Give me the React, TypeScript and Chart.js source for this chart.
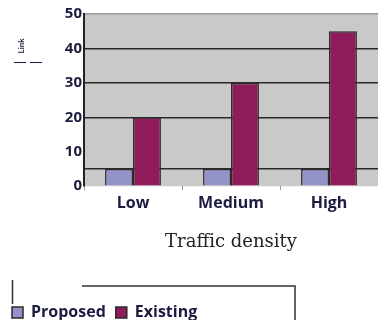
import React, { useEffect, useRef } from 'react';
import { Chart, registerables } from 'chart.js';

Chart.register(...registerables);

const categories = ['Low', 'Medium', 'High'];
const seriesNames = ['Proposed', 'Existing'];
const proposed = [5, 5, 5];
const existing = [20, 30, 45];
const yTicks = [0, 5, 10, 20, 30, 40, 50];
const yTickLabels = ['0', '', '10', '20', '30', '40', '50'];
const xTitle = 'Traffic density';
const yTitle = 'Link';

const TEXT = '#1c1c40';
const LINE = '#2a2a2a';

const bgPlugin = {
  id: 'plotBg',
  beforeDraw(chart: any) {
    const { ctx, chartArea } = chart;
    ctx.save();
    ctx.fillStyle = '#c9c9c9';
    ctx.fillRect(chartArea.left, chartArea.top, chartArea.right - chartArea.left, chartArea.bottom - chartArea.top);
    ctx.restore();
  },
};

const decoPlugin = {
  id: 'deco',
  afterDraw(chart: any) {
    const { ctx } = chart;
    ctx.save();
    ctx.strokeStyle = '#333';
    ctx.lineWidth = 1.5;
    ctx.beginPath();
    ctx.moveTo(12.5, 280);
    ctx.lineTo(12.5, 304);
    ctx.moveTo(82, 286);
    ctx.lineTo(295, 286);
    ctx.lineTo(295, 320);
    ctx.stroke();
    ctx.translate(21, 46);
    ctx.rotate(-Math.PI / 2);
    ctx.fillStyle = TEXT;
    ctx.font = 'bold 8px Lato';
    ctx.textAlign = 'center';
    ctx.textBaseline = 'middle';
    ctx.fillText(yTitle, 0, 0);
    ctx.restore();
    ctx.save();
    ctx.strokeStyle = TEXT;
    ctx.lineWidth = 1;
    ctx.beginPath();
    ctx.moveTo(14, 62.5);
    ctx.lineTo(26, 62.5);
    ctx.moveTo(30, 62.5);
    ctx.lineTo(42, 62.5);
    ctx.stroke();
    ctx.restore();
  },
};

export default function App() {
  const ref = useRef<HTMLCanvasElement | null>(null);
  useEffect(() => {
    if (!ref.current) return;
    const chart = new Chart(ref.current, {
      type: 'bar',
      data: {
        labels: categories,
        datasets: [
          {
            label: seriesNames[0],
            data: proposed,
            backgroundColor: '#9393c9',
            borderColor: LINE,
            borderWidth: 1.5,
          },
          {
            label: seriesNames[1],
            data: existing,
            backgroundColor: '#8f1b5a',
            borderColor: LINE,
            borderWidth: 1.5,
          },
        ],
      },
      options: {
        responsive: false,
        animation: false,
        devicePixelRatio: 1,
        layout: { padding: { top: 14, left: 2, right: -8, bottom: -10.6 } },
        datasets: { bar: { categoryPercentage: 0.57, barPercentage: 1 } },
        plugins: {
          tooltip: { enabled: false },
          legend: {
            position: 'bottom',
            align: 'start',
            labels: {
              boxWidth: 11,
              boxHeight: 11,
              padding: 10,
              color: TEXT,
              font: { family: 'Open Sans', weight: 'bold', size: 16 },
            },
          },
        },
        scales: {
          x: {
            grid: {
              display: true,
              drawOnChartArea: false,
              drawTicks: true,
              tickLength: 4,
              tickColor: '#999',
              offset: true,
            },
            border: { display: false },
            ticks: {
              color: TEXT,
              padding: 3.5,
              font: { family: 'Open Sans', weight: 'bold', size: 16 },
            },
            title: {
              display: true,
              text: xTitle,
              color: '#222',
              font: { family: 'DejaVu Serif', size: 18 },
              padding: { top: 4, bottom: 41.6 },
            },
            afterFit(scale: any) {
              scale.height = 108.4;
            },
          },
          y: {
            min: 0,
            max: 50,
            afterBuildTicks(scale: any) {
              scale.ticks = yTicks.map((v) => ({ value: v }));
            },
            ticks: {
              color: TEXT,
              padding: 2,
              font: { family: 'Open Sans', weight: 'bold', size: 15 },
              callback: (_v: any, i: number) => yTickLabels[i],
            },
            grid: {
              drawTicks: false,
              lineWidth: 1.5,
              color: (ctx: any) => {
                const v = ctx.tick ? ctx.tick.value : null;
                if (v === 0 || v === 10) return 'rgba(0,0,0,0)';
                if (v === 50) return '#9a9a9a';
                return LINE;
              },
            },
            border: { display: true, color: '#222', width: 2 },
            afterFit(scale: any) {
              scale.width = 82;
            },
          },
        },
      },
      plugins: [bgPlugin, decoPlugin],
    });
    return () => chart.destroy();
  }, []);
  return (
    <div style={{ position: 'fixed', left: 0, top: 0, width: 378, height: 320, background: '#fff' }}>
      <canvas ref={ref} width={378} height={320} />
    </div>
  );
}
